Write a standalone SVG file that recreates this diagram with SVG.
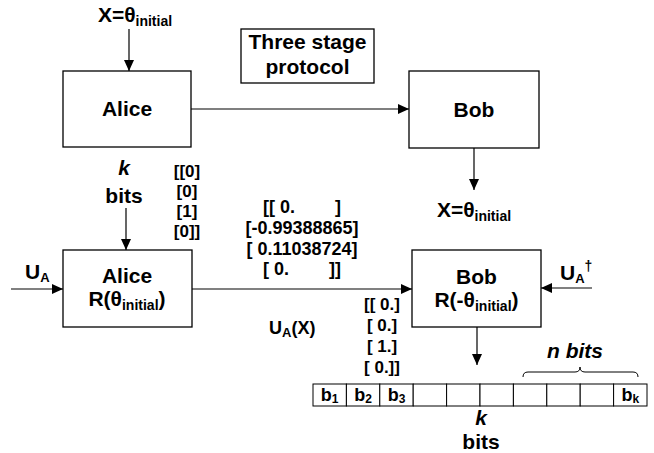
<svg xmlns="http://www.w3.org/2000/svg" width="654" height="453" viewBox="0 0 654 453">
<style>
text{font-family:"Liberation Sans",Arial,sans-serif;font-weight:bold;fill:#000;}
.lbl{font-size:21px;text-anchor:middle;}
.vec{font-size:18px;text-anchor:middle;}
.vec2{font-size:17px;text-anchor:middle;}
.box{fill:#fff;stroke:#000;stroke-width:1.3;}
.blk{stroke:#000;stroke-width:1.2;fill:none;}
.gry{stroke:#808080;stroke-width:2;fill:none;}
.cell{fill:#fff;stroke:#000;stroke-width:1;}
.bit{font-size:18px;text-anchor:middle;}
</style>
<defs>
<marker id="ah" markerUnits="userSpaceOnUse" markerWidth="12" markerHeight="10" refX="11" refY="5" orient="auto">
<path d="M0,0 L11,5 L0,10 z" fill="#000"/>
</marker>
</defs>
<g id="connectors">
<line class="blk" x1="129" y1="29" x2="129" y2="71" marker-end="url(#ah)"/>
<line class="blk" x1="191" y1="109" x2="409" y2="109" marker-end="url(#ah)"/>
<line class="blk" x1="474" y1="148" x2="474" y2="190" marker-end="url(#ah)"/>
<line class="blk" x1="126" y1="208" x2="126" y2="250" marker-end="url(#ah)"/>
<line class="gry" x1="11" y1="289" x2="63" y2="289" marker-end="url(#ah)"/>
<line class="gry" x1="192" y1="289" x2="412" y2="289" marker-end="url(#ah)"/>
<line class="gry" x1="592" y1="288" x2="541" y2="288" marker-end="url(#ah)"/>
<line class="blk" x1="477" y1="327" x2="477" y2="365" marker-end="url(#ah)"/>
</g>
<g id="title">
<rect class="box" x="241" y="29" width="133" height="54"/>
<text class="lbl" x="307.5" y="49">Three stage</text>
<text class="lbl" x="307.5" y="74">protocol</text>
</g>
<g id="alice-top">
<rect class="box" x="63" y="71" width="128" height="76"/>
<text class="lbl" x="127" y="116">Alice</text>
</g>
<g id="bob-top">
<rect class="box" x="409" y="71" width="130" height="77"/>
<text class="lbl" x="474" y="117">Bob</text>
</g>
<g id="alice-bottom">
<rect class="box" x="63" y="250" width="129" height="77"/>
<text class="lbl" x="127" y="283">Alice</text>
<text class="lbl" x="127" y="306">R(θ<tspan font-size="14" dy="4">initial</tspan><tspan dy="-4">)</tspan></text>
</g>
<g id="bob-bottom">
<rect class="box" x="412" y="250" width="129" height="77"/>
<text class="lbl" x="476.5" y="284">Bob</text>
<text class="lbl" x="476.5" y="307">R(-θ<tspan font-size="14" dy="4">initial</tspan><tspan dy="-4">)</tspan></text>
</g>
<g id="labels">
<text class="lbl" x="135" y="22">X=θ<tspan font-size="14" dy="4">initial</tspan></text>
<text class="lbl" x="474" y="217">X=θ<tspan font-size="14" dy="4">initial</tspan></text>
<text class="lbl" x="124" y="175" font-style="italic">k</text>
<text class="lbl" x="124" y="203">bits</text>
<text class="vec2" x="187" y="177">[[0]</text>
<text class="vec2" x="187" y="197">[0]</text>
<text class="vec2" x="187" y="217">[1]</text>
<text class="vec2" x="187" y="237">[0]]</text>
<text class="vec" x="302" y="213" xml:space="preserve">[[ 0.        ]</text>
<text class="vec" x="302" y="234">[-0.99388865]</text>
<text class="vec" x="302" y="255" xml:space="preserve">[ 0.11038724]</text>
<text class="vec" x="302" y="275" xml:space="preserve">[ 0.        ]]</text>
<text x="25" y="279" font-size="21">U<tspan font-size="13" dy="3">A</tspan></text>
<text x="269" y="334" font-size="18">U<tspan font-size="13" dy="3">A</tspan><tspan dy="-3">(X)</tspan></text>
<text class="vec2" x="382" y="310" xml:space="preserve">[[ 0.]</text>
<text class="vec2" x="382" y="331" xml:space="preserve">[ 0.]</text>
<text class="vec2" x="382" y="352" xml:space="preserve">[ 1.]</text>
<text class="vec2" x="382" y="373" xml:space="preserve">[ 0.]]</text>
<text x="560" y="280" font-size="21">U<tspan font-size="13" dy="3">A</tspan><tspan font-size="14" dy="-12">†</tspan></text>
<text class="lbl" x="575" y="358" font-style="italic">n bits</text>
<text class="lbl" x="481" y="425" font-style="italic">k</text>
<text class="lbl" x="481" y="449">bits</text>
</g>
<g id="brace">
<path d="M523,377 Q523,372 528,372 L575,372 Q580,372 580,367 Q580,372 585,372 L633,372 Q638,372 638,377" fill="none" stroke="#000" stroke-width="1"/>
</g>
<g id="bit-row">
<rect class="cell" x="313" y="384" width="33.4" height="22"/>
<rect class="cell" x="346.4" y="384" width="33.4" height="22"/>
<rect class="cell" x="379.8" y="384" width="33.4" height="22"/>
<rect class="cell" x="413.2" y="384" width="33.4" height="22"/>
<rect class="cell" x="446.6" y="384" width="33.4" height="22"/>
<rect class="cell" x="480" y="384" width="33.4" height="22"/>
<rect class="cell" x="513.4" y="384" width="33.4" height="22"/>
<rect class="cell" x="546.8" y="384" width="33.4" height="22"/>
<rect class="cell" x="580.2" y="384" width="33.4" height="22"/>
<rect class="cell" x="613.6" y="384" width="33.4" height="22"/>
<text class="bit" x="329.7" y="401">b<tspan font-size="12" dy="2">1</tspan></text>
<text class="bit" x="363.1" y="401">b<tspan font-size="12" dy="2">2</tspan></text>
<text class="bit" x="396.5" y="401">b<tspan font-size="12" dy="2">3</tspan></text>
<text class="bit" x="630.3" y="401">b<tspan font-size="12" dy="2">k</tspan></text>
</g>
</svg>
